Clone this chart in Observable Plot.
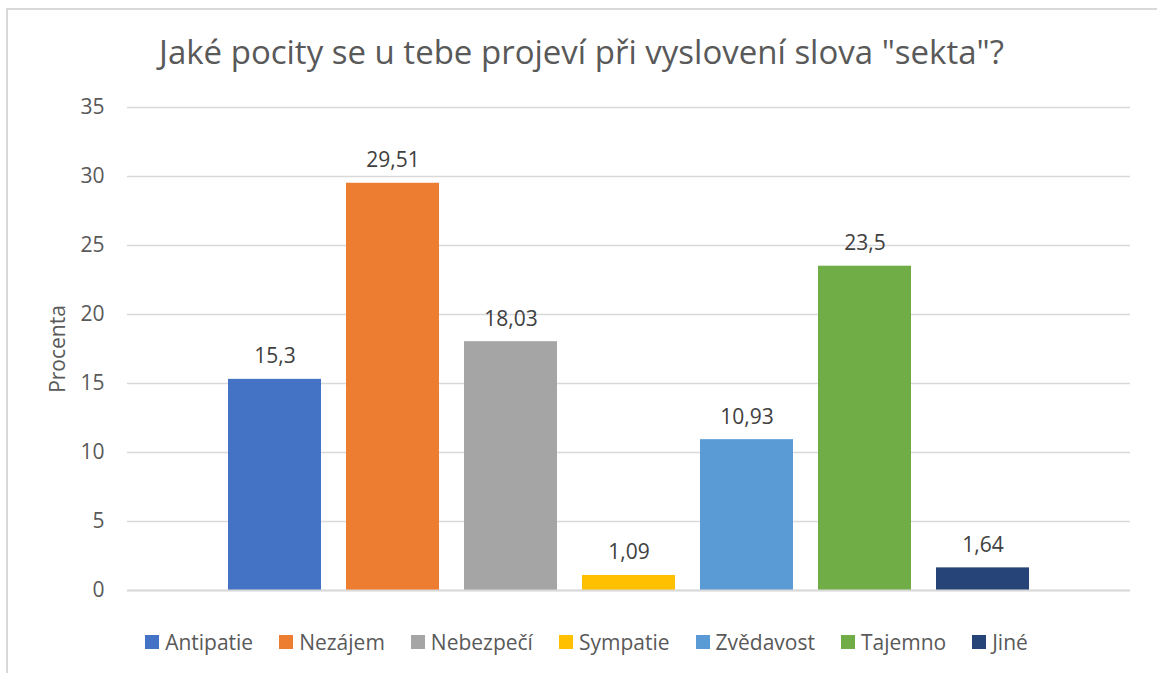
<!DOCTYPE html>
<html>
<head>
<meta charset="utf-8">
<script src="https://cdn.jsdelivr.net/npm/d3@7"></script>
<script src="https://cdn.jsdelivr.net/npm/@observablehq/plot@0.6"></script>
<style>
  html, body { margin: 0; padding: 0; background: #fff; }
  #wrap { position: relative; width: 1157px; height: 673px; overflow: hidden; font-family: "Open Sans", sans-serif; }
  #frame { position: absolute; left: 6px; top: 8px; right: -4px; bottom: -4px; border-top: 2px solid #d9d9d9; border-left: 2px solid #d9d9d9; }
  #title { position: absolute; left: 3px; width: 1157px; top: 30px; text-align: center; font-size: 33px; line-height: 44px; color: #595959; white-space: nowrap; }
  #chart { position: absolute; left: 0; top: 80px; }
  #legend { position: absolute; left: 8px; width: 1157px; top: 626px; text-align: center; font-size: 21px; line-height: 30px; color: #595959; white-space: nowrap; }
  .item { display: inline-flex; align-items: center; margin: 0 13px; }
  .sw { display: inline-block; width: 14px; height: 14px; margin-right: 6px; }
</style>
</head>
<body>
<div id="wrap">
  <div id="frame"></div>
  <div id="title"></div>
  <div id="chart"></div>
  <div id="legend"></div>
</div>
<script>
const titleText = 'Jaké pocity se u tebe projeví při vyslovení slova "sekta"?';
const categories = ["Antipatie", "Nezájem", "Nebezpečí", "Sympatie", "Zvědavost", "Tajemno", "Jiné"];
const values = [15.3, 29.51, 18.03, 1.09, 10.93, 23.5, 1.64];
const colors = ["#4472C4", "#ED7D31", "#A5A5A5", "#FFC000", "#5B9BD5", "#70AD47", "#264478"];
const yTicks = [0, 5, 10, 15, 20, 25, 30, 35];
const yLabel = "Procenta";

const data = categories.map((c, i) => ({category: c, value: values[i]}));
const fmt = v => String(v).replace(".", ",");

document.getElementById("title").textContent = titleText;

const chart = Plot.plot({
  width: 1157,
  height: 543,
  marginLeft: 127,
  marginRight: 27,
  marginTop: 27,
  marginBottom: 33,
  style: {fontFamily: "Open Sans, sans-serif", fontSize: "21px", color: "#595959", background: "transparent"},
  x: {domain: categories, paddingInner: 0.212, paddingOuter: 0.856, axis: null},
  y: {domain: [0, 35], ticks: yTicks},
  color: {domain: categories, range: colors},
  marks: [
    Plot.gridY(yTicks, {stroke: "#d9d9d9", strokeOpacity: 1, strokeWidth: 1.5}),
    Plot.barY(data, {x: "category", y: "value", fill: "category"}),
    Plot.ruleY([0], {stroke: "#d9d9d9", strokeWidth: 2}),
    Plot.axisY(yTicks, {tickSize: 0, tickPadding: 23, fontSize: 21, fill: "#595959", label: null}),
    Plot.text(data, {x: "category", y: "value", text: d => fmt(d.value), dy: -16, lineAnchor: "bottom", fill: "#404040", fontSize: 21}),
    Plot.text([yLabel], {frameAnchor: "left", dx: -69, rotate: -90, text: d => d, fill: "#595959", fontSize: 21, textAnchor: "middle"})
  ]
});
document.getElementById("chart").appendChild(chart);

const legend = document.getElementById("legend");
categories.forEach((c, i) => {
  const it = document.createElement("span");
  it.className = "item";
  const sw = document.createElement("span");
  sw.className = "sw";
  sw.style.background = colors[i];
  it.appendChild(sw);
  it.appendChild(document.createTextNode(c));
  legend.appendChild(it);
});
</script>
</body>
</html>
